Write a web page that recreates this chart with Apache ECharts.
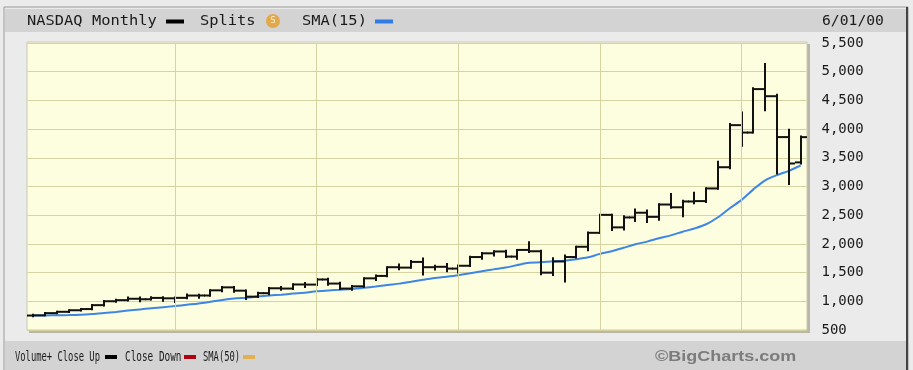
<!DOCTYPE html>
<html>
<head>
<meta charset="utf-8">
<script src="https://cdn.jsdelivr.net/npm/echarts@6/dist/echarts.min.js"></script>
<style>
html,body{margin:0;padding:0;background:#ebebeb;}
#chart{width:913px;height:370px;}
</style>
</head>
<body>
<div id="chart"></div>
<script>
// Monthly categories Jan 1995 .. Jun 2000
const months = [
 'Jan95','Feb95','Mar95','Apr95','May95','Jun95','Jul95','Aug95','Sep95','Oct95','Nov95','Dec95',
 'Jan96','Feb96','Mar96','Apr96','May96','Jun96','Jul96','Aug96','Sep96','Oct96','Nov96','Dec96',
 'Jan97','Feb97','Mar97','Apr97','May97','Jun97','Jul97','Aug97','Sep97','Oct97','Nov97','Dec97',
 'Jan98','Feb98','Mar98','Apr98','May98','Jun98','Jul98','Aug98','Sep98','Oct98','Nov98','Dec98',
 'Jan99','Feb99','Mar99','Apr99','May99','Jun99','Jul99','Aug99','Sep99','Oct99','Nov99','Dec99',
 'Jan00','Feb00','Mar00','Apr00','May00','Jun00'
];
const opens = [
 752,755,794,817,844,865,933,1001,1020,1044,1036,1059,
 1052,1060,1100,1101,1191,1243,1185,1081,1142,1227,1222,1293,
 1291,1380,1309,1222,1261,1400,1442,1594,1587,1686,1594,1601,
 1570,1619,1771,1836,1868,1779,1895,1872,1499,1694,1771,1950,
 2193,2506,2288,2461,2543,2471,2686,2638,2739,2746,2966,3336,
 4069,3940,4697,4573,3861,3420
];
const highs = [
 766,795,820,846,868,936,1005,1026,1068,1065,1072,1070,
 1066,1120,1116,1192,1250,1250,1190,1150,1232,1250,1295,1317,
 1390,1394,1325,1265,1403,1448,1595,1640,1700,1745,1620,1650,
 1625,1774,1840,1872,1880,1895,2030,1880,1750,1798,1950,2200,
 2510,2510,2480,2600,2580,2690,2870,2750,2890,2970,3430,4090,
 4290,4710,5132,4600,3990,3870
];
const lows = [
 741,755,790,812,838,862,928,990,1012,1000,1030,1010,
 988,1055,1060,1095,1175,1168,1042,1075,1125,1200,1215,1250,
 1285,1290,1215,1201,1255,1370,1435,1560,1585,1466,1555,1525,
 1500,1615,1740,1800,1770,1740,1860,1470,1460,1345,1765,1890,
 2190,2240,2250,2400,2380,2420,2630,2480,2710,2730,2960,3320,
 3710,3940,4330,3227,3042,3400
];
const closes = [
 755,794,817,844,865,933,1001,1020,1044,1036,1059,1052,
 1060,1100,1101,1191,1243,1185,1081,1142,1227,1222,1293,1291,
 1380,1309,1222,1261,1400,1442,1594,1587,1686,1594,1601,1570,
 1619,1771,1836,1868,1779,1895,1872,1499,1694,1771,1950,2193,
 2506,2288,2461,2543,2471,2686,2638,2739,2746,2966,3336,4069,
 3940,4697,4573,3861,3401,3860
];
const sma15 = [
 752,754,757,760,765,778,796,815,838,859,879,898,
 917,940,963,992,1022,1047,1063,1082,1101,1116,1134,1151,
 1174,1190,1202,1215,1235,1258,1285,1308,1341,1375,1406,1429,
 1455,1487,1523,1556,1587,1632,1672,1679,1696,1708,1732,1766,
 1826,1872,1932,1993,2040,2097,2148,2212,2268,2342,2464,2622,
 2767,2950,3108,3199,3273,3366
];
const yTicks = [500,1000,1500,2000,2500,3000,3500,4000,4500,5000,5500];
const gridMonths = ['Jan96','Jan97','Jan98','Jan99','Jan00'];

const ohlc = months.map((m, i) => [i, opens[i], highs[i], lows[i], closes[i]]);

const chart = echarts.init(document.getElementById('chart'));
const monoFont = '"DejaVu Sans Mono", monospace';
const GRID = '#d6d3a2';

chart.setOption({
  animation: false,
  backgroundColor: '#ebebeb',
  grid: { left: 27.5, right: 106.5, top: 43, bottom: 40, containLabel: false },
  xAxis: {
    type: 'category', data: months, boundaryGap: true,
    axisLine: { show: false }, axisTick: { show: false }, axisLabel: { show: false },
    splitLine: { show: false }
  },
  yAxis: {
    type: 'value', position: 'right', min: yTicks[0], max: yTicks[yTicks.length - 1], interval: 500,
    axisLine: { show: false }, axisTick: { show: false },
    splitLine: { show: true, lineStyle: { color: GRID, width: 1 } },
    axisLabel: {
      margin: 15, align: 'left', color: '#1a1a1a', fontFamily: monoFont, fontSize: 14,
      formatter: v => v.toLocaleString('en-US')
    }
  },
  graphic: [
    // outer frame
    { type: 'rect', z: -20, shape: { x: 4, y: 7, width: 904, height: 370 }, style: { fill: '#ebebeb', stroke: '#9a9a9a', lineWidth: 1 } },
    { type: 'rect', z: -19, shape: { x: 906, y: 7, width: 2, height: 363 }, style: { fill: '#444' } },
    // header strip
    { type: 'rect', z: -18, shape: { x: 5, y: 9, width: 901, height: 23 }, style: { fill: '#d3d3d3' } },
    // footer strip
    { type: 'rect', z: -18, shape: { x: 5, y: 341, width: 901, height: 29 }, style: { fill: '#d3d3d3' } },
    // plot shadow and fill
    { type: 'rect', z: -15, shape: { x: 29, y: 44, width: 781, height: 289 }, style: { fill: '#b9b8a6' } },
    { type: 'rect', z: -14, shape: { x: 27, y: 42, width: 780, height: 288 }, style: { fill: '#fdfddf', stroke: '#c9c8b2', lineWidth: 1 } },
    // header texts
    { type: 'text', z: 50, x: 27, y: 21, scaleX: 1.1, style: { text: 'NASDAQ Monthly', font: '14px ' + monoFont, fill: '#1a1a1a', verticalAlign: 'middle' } },
    { type: 'rect', z: 50, shape: { x: 166, y: 19.5, width: 18, height: 4 }, style: { fill: '#000' } },
    { type: 'text', z: 50, x: 200, y: 21, scaleX: 1.1, style: { text: 'Splits', font: '14px ' + monoFont, fill: '#1a1a1a', verticalAlign: 'middle' } },
    { type: 'circle', z: 50, shape: { cx: 273, cy: 21, r: 7 }, style: { fill: '#e3a849' } },
    { type: 'text', z: 51, x: 273, y: 21, style: { text: 'S', font: '9px ' + monoFont, fill: '#fff4dc', align: 'center', verticalAlign: 'middle' } },
    { type: 'text', z: 50, x: 302, y: 21, scaleX: 1.1, style: { text: 'SMA(15)', font: '14px ' + monoFont, fill: '#1a1a1a', verticalAlign: 'middle' } },
    { type: 'rect', z: 50, shape: { x: 375, y: 19.5, width: 18, height: 4 }, style: { fill: '#2f7be8' } },
    { type: 'text', z: 50, x: 822, y: 21, scaleX: 1.05, style: { text: '6/01/00', font: '14px ' + monoFont, fill: '#1a1a1a', verticalAlign: 'middle' } },
    // footer texts
    { type: 'text', z: 50, x: 15, y: 357, scaleX: 0.63, style: { text: 'Volume+ Close Up', font: '14px ' + monoFont, fill: '#1a1a1a', verticalAlign: 'middle' } },
    { type: 'rect', z: 50, shape: { x: 105, y: 355, width: 12, height: 4 }, style: { fill: '#000' } },
    { type: 'text', z: 50, x: 125, y: 357, scaleX: 0.67, style: { text: 'Close Down', font: '14px ' + monoFont, fill: '#1a1a1a', verticalAlign: 'middle' } },
    { type: 'rect', z: 50, shape: { x: 184, y: 355, width: 12, height: 4 }, style: { fill: '#b00010' } },
    { type: 'text', z: 50, x: 203, y: 357, scaleX: 0.63, style: { text: 'SMA(50)', font: '14px ' + monoFont, fill: '#1a1a1a', verticalAlign: 'middle' } },
    { type: 'rect', z: 50, shape: { x: 243, y: 355, width: 12, height: 4 }, style: { fill: '#e3b050' } },
    { type: 'text', z: 50, x: 655, y: 357, scaleX: 1.2, style: { text: '©BigCharts.com', font: 'bold 15px "Liberation Sans", Arial, sans-serif', fill: '#7c7c7c', verticalAlign: 'middle' } }
  ],
  series: [
    {
      type: 'line', name: 'grid', z: 1, data: months.map(() => null), silent: true,
      markLine: {
        silent: true, symbol: ['none', 'none'], label: { show: false },
        lineStyle: { color: GRID, width: 1, type: 'solid' },
        data: gridMonths.map(m => ({ xAxis: m }))
      }
    },
    {
      type: 'line', name: 'SMA(15)', z: 3, data: sma15, smooth: 0.3, showSymbol: false,
      lineStyle: { color: '#3d86e6', width: 2 }
    },
    {
      type: 'custom', name: 'NASDAQ Monthly', z: 4, data: ohlc,
      encode: { x: 0, y: [1, 2, 3, 4] },
      renderItem: function (params, api) {
        const i = api.value(0);
        const o = api.coord([i, api.value(1)]);
        const h = api.coord([i, api.value(2)]);
        const l = api.coord([i, api.value(3)]);
        const c = api.coord([i, api.value(4)]);
        const x = Math.round(h[0]);
        const st = { stroke: '#111', lineWidth: 2 };
        return {
          type: 'group', children: [
            { type: 'line', shape: { x1: x, y1: h[1] - 1, x2: x, y2: l[1] + 1 }, style: st },
            { type: 'line', shape: { x1: x - 6, y1: o[1], x2: x, y2: o[1] }, style: st },
            { type: 'line', shape: { x1: x, y1: c[1], x2: x + 6, y2: c[1] }, style: st }
          ]
        };
      }
    }
  ]
});
</script>
</body>
</html>
